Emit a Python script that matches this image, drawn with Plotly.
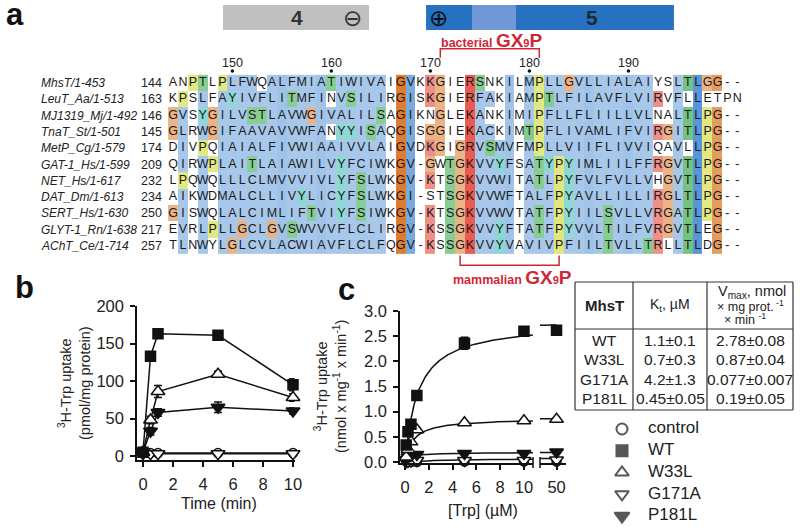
import numpy as np
import plotly.graph_objects as go

W, H = 800, 527

# ---------------- panel a data ----------------
names = ["MhsT/1-453", "LeuT_Aa/1-513", "MJ1319_Mj/1-492", "TnaT_St/1-501",
         "MetP_Cg/1-579", "GAT-1_Hs/1-599", "NET_Hs/1-617", "DAT_Dm/1-613",
         "SERT_Hs/1-630", "GLYT-1_Rn/1-638", "AChT_Ce/1-714"]
starts = [144, 163, 146, 145, 174, 209, 232, 234, 250, 217, 257]
ends = [199, 220, 201, 200, 229, 263, 286, 288, 304, 271, 311]
seqs = [
    "ANPTLPLFWQ" "ALFMIATIWI" "VAIGVKKGIE" "RSNKILMPLL" "GVLLIALAIY" "SLTLGG--",
    "KPSLFAYIVF" "LITMFINVSI" "LIRGISKGIE" "RFAKIAMPTL" "FILAVFLVIR" "VFLLETPN",
    "GVSYGILVST" "LAVWGIVALI" "LSAGIKNGLE" "KANKIMIPFL" "LFLIILLVLN" "ALTLPG--",
    "GLRWGIFAAV" "AVVWFANYYI" "SAQGISGGIE" "KACKIMTPFL" "IVAMLIFVIR" "GITLPG--",
    "DIVPQIAIAL" "FIVWIAAIVV" "LAIGVDKGIG" "RVSMVFMPLL" "VIIFLIVVIQ" "AVLLPG--",
    "QIRWPLAITL" "AIAWILVYFC" "IWKGV-GWTG" "KVVYFSATYP" "YIMLIILFFR" "GVTLPG--",
    "LPQWQLLLCL" "MVVVIVLYFS" "LWKGV-KTSG" "KVVWITATLP" "YFVLFVLLVH" "GVTLPG--",
    "AIKWDMALCL" "LIVYLICYFS" "LWKGI-STSG" "KVVWFTALFP" "YAVLLILLIR" "GLTLPG--",
    "GISWQLALCI" "MLIFTVIYFS" "IWKGV-KTSG" "KVVWVTATFP" "YIILSVLLVR" "GATLPG--",
    "EVRLPLLGCL" "GVSWVVVFLC" "LIRGV-KSSG" "KVVYFTATFP" "YVVLTILFVR" "GVTLEG--",
    "TLNWYLGLCV" "LACWIAVFLC" "LFQGV-KSSG" "KVVYVAVIVP" "FIILTVLLTR" "LLTLDG--",
]
ruler_numbers = [150, 160, 170, 180, 190]
mutants = ["G171A", "P181L"]
tm_labels = ["4", "5"]

# ---------------- panel b data ----------------
time_min = [0, 0.5, 1, 5, 10]
b_control = [6, 4, 4, 4, 4]
b_wt = [5, 133, 163, 161, 95]
b_wt_err = [3, 5, 5, 4, 8]
b_w33l = [5, 48, 86, 109, 78]
b_w33l_err = [2, 5, 8, 4, 5]
b_g171a = [3, 3, 3, 3, 3]
b_g171a_err = [1, 1, 1, 1, 1]
b_p181l = [5, 33, 58, 65, 60]
b_p181l_err = [2, 5, 5, 7, 4]

# ---------------- panel c data ----------------
trp_um = [0.1, 0.25, 0.5, 1, 5, 10, 50]
c_control = [0.01, 0.0, 0.0, 0.0, 0.01, 0.01, 0.01]
c_wt = [0.34, 0.6, 0.75, 1.32, 2.36, 2.6, 2.62]
c_wt_err = [0.03, 0.04, 0.05, 0.06, 0.12, 0.06, 0.08]
c_w33l = [0.1, 0.25, 0.4, 0.64, 0.78, 0.82, 0.85]
c_w33l_err = [0.02, 0.03, 0.04, 0.04, 0.03, 0.03, 0.03]
c_g171a = [0.01, 0.01, 0.02, 0.03, 0.03, 0.03, 0.04]
c_g171a_err = [0.01] * 7
c_p181l = [0.05, 0.1, 0.13, 0.15, 0.17, 0.17, 0.2]
c_p181l_err = [0.01, 0.02, 0.02, 0.02, 0.02, 0.02, 0.03]

# ---------------- table data ----------------
table_variants = ["WT", "W33L", "G171A", "P181L"]
table_kt = ["1.1±0.1", "0.7±0.3", "4.2±1.3", "0.45±0.05"]
table_vmax = ["2.78±0.08", "0.87±0.04", "0.077±0.007", "0.19±0.05"]
kt_values = [1.1, 0.7, 4.2, 0.45]
vmax_values = [2.78, 0.87, 0.077, 0.19]

legend_labels = ["control", "WT", "W33L", "G171A", "P181L"]

assert all(len(s) == 58 for s in seqs)


def P(x):
    return x / W


def Q(y):
    return 1 - y / H


BLACK = "#111111"

# ---------------- Clustal-like colouring ----------------
HYD = set("WLVIMAFCHPY")
PROPS = [set("ACFGHIKLMTVWY"), set("DEHKNQRSTWY"), set("ACDGNPSTV"), set("HKR"),
         set("DE"), set("DEHKR"), set("FHWY"), set("ILV"), set("ACGS"), set("P")]
BASE = {
    "blue": (80, 145, 215), "red": (230, 60, 50), "green": (50, 168, 70),
    "orange": (222, 125, 45), "yellow": (205, 215, 40), "cyan": (60, 190, 180),
    "magenta": (190, 70, 190),
}
nrow, ncol = len(seqs), len(seqs[0])


def column(j):
    return [s[j] for s in seqs]


def frac(col, S):
    return sum(c in S for c in col) / len(col)


def cons_score(col):
    if sum(c == '-' for c in col) > len(col) / 2:
        return None
    if len(set(col)) == 1:
        return 11
    sc = 0
    for p in PROPS:
        if all(c in p for c in col) or all(c not in p for c in col):
            sc += 1
    return sc


def cls(aa, col):
    hyd = frac(col, HYD)
    if aa in "AILMFWVC" and hyd >= 0.6:
        return "blue"
    if aa in "KR" and (frac(col, "KR") >= 0.6 or frac(col, "K") >= 0.8 or frac(col, "R") >= 0.8):
        return "red"
    if aa in "ST" and (frac(col, "ST") >= 0.5 or hyd >= 0.6):
        return "green"
    if aa == "N" and frac(col, "N") >= 0.5:
        return "green"
    if aa == "Q" and frac(col, "QE") >= 0.5:
        return "green"
    if aa in "DE" and frac(col, "DE") >= 0.5:
        return "magenta"
    if aa in "HY" and hyd >= 0.6:
        return "cyan"
    if aa == "G":
        return "orange"
    if aa == "P":
        return "yellow"
    return None


def bleach(rgb, b):
    return "rgb(%d,%d,%d)" % tuple(round(c + (255 - c) * b) for c in rgb)


palette = ["rgb(255,255,255)"]
z = [[0] * ncol for _ in range(nrow)]
for j in range(ncol):
    col = column(j)
    sc = cons_score(col)
    for i in range(nrow):
        aa = col[i]
        if aa == '-' or sc is None:
            continue
        k = cls(aa, col)
        if k is None:
            continue
        if k == "blue":
            b = min(0.5, max(0.05, (11 - sc) * 0.115))
        else:
            b = min(0.42, (11 - sc) * 0.08)
        c = bleach(BASE[k], b)
        if c not in palette:
            palette.append(c)
        z[i][j] = palette.index(c)
if len(palette) < 2:
    palette.append("rgb(255,255,255)")
npal = len(palette)
colorscale = [[k / (npal - 1), palette[k]] for k in range(npal)]

fig = go.Figure()

cols_idx = list(range(1, ncol + 1))
rows_idx = list(range(1, nrow + 1))
fig.add_trace(go.Heatmap(z=z, x=cols_idx, y=rows_idx, colorscale=colorscale, zmin=0,
                         zmax=npal - 1, showscale=False, hoverinfo="skip",
                         xaxis="x4", yaxis="y4"))
lx, ly, lt = [], [], []
for i, s in enumerate(seqs):
    for j, aa in enumerate(s):
        lx.append(j + 1)
        ly.append(i + 1)
        lt.append(aa)
fig.add_trace(go.Scatter(x=lx, y=ly, text=lt, mode="text", hoverinfo="skip",
                         textfont=dict(family="Liberation Sans", size=12.5, color="#1a1a1a"),
                         xaxis="x4", yaxis="y4"))

# ruler dots
ruler_cols = [n - starts[0] + 1 for n in ruler_numbers]
fig.add_trace(go.Scatter(x=ruler_cols, y=[0.27] * len(ruler_cols), mode="markers",
                         marker=dict(size=3.5, color=BLACK), hoverinfo="skip",
                         xaxis="x4", yaxis="y4"))

annotations = []
shapes = []

for n, c in zip(ruler_numbers, ruler_cols):
    annotations.append(dict(x=c, y=-0.25, xref="x4", yref="y4", text=str(n), showarrow=False,
                            font=dict(size=12.5, family="Liberation Sans", color="#222")))

for i in range(nrow):
    annotations.append(dict(x=P(39), y=i + 1, xref="paper", yref="y4", xanchor="left",
                            text="<i>%s</i>" % names[i], showarrow=False,
                            font=dict(size=12, family="Liberation Sans", color="#222")))
    annotations.append(dict(x=P(164), y=i + 1, xref="paper", yref="y4", xanchor="right",
                            text=str(starts[i]), showarrow=False,
                            font=dict(size=12.5, family="Liberation Sans", color="#222")))
    annotations.append(dict(x=ncol + 0.75, y=i + 1, xref="x4", yref="y4", xanchor="left",
                            text=str(ends[i]), showarrow=False,
                            font=dict(size=12.5, family="Liberation Sans", color="#222")))

# GX9P brackets
g_col = int(mutants[0][1:-1]) - starts[0] + 1
p_col = int(mutants[1][1:-1]) - starts[0] + 1
last = seqs[-1]
mg = next(j for j in range(ncol - 10) if last[j] == 'G' and last[j + 10] == 'P') + 1
mp = mg + 10
RB = "rgb(205,40,55)"
shapes.append(dict(type="path", xref="x4", yref="y4",
                   path="M %f,%f L %f,%f L %f,%f L %f,%f" % (g_col, -0.55, g_col, -1.1, p_col, -1.1, p_col, -0.55),
                   line=dict(color=RB, width=1.5)))
shapes.append(dict(type="path", xref="x4", yref="y4",
                   path="M %f,%f L %f,%f L %f,%f L %f,%f" % (mg, 11.58, mg, 12.18, mp, 12.18, mp, 11.58),
                   line=dict(color=RB, width=1.5)))
gx9p = ("<b>%s <span style='font-size:19px'>GX</span><span style='font-size:11px'>9</span>"
        "<span style='font-size:19px'>P</span></b>")
annotations.append(dict(x=(g_col + p_col) / 2 + 0.2, y=-1.62, xref="x4", yref="y4",
                        text=gx9p % "bacterial", showarrow=False,
                        font=dict(size=12.5, color=RB, family="Liberation Sans")))
annotations.append(dict(x=(mg + mp) / 2 + 0.3, y=12.95, xref="x4", yref="y4",
                        text=gx9p % "mammalian", showarrow=False,
                        font=dict(size=12.5, color=RB, family="Liberation Sans")))

# TM bars
shapes.append(dict(type="rect", xref="x4", yref="y4", x0=6.05, x1=20.8, y0=-3.79, y1=-2.25,
                   fillcolor="rgb(192,192,192)", line=dict(width=0), layer="below"))
shapes.append(dict(type="rect", xref="x4", yref="y4", x0=26.56, x1=51.6, y0=-3.79, y1=-2.25,
                   fillcolor="rgb(38,114,192)", line=dict(width=0), layer="below"))
shapes.append(dict(type="rect", xref="x4", yref="y4", x0=31.2, x1=35.65, y0=-3.79, y1=-2.25,
                   fillcolor="rgb(112,152,214)", line=dict(width=0), layer="below"))
annotations.append(dict(x=13.5, y=-3.0, xref="x4", yref="y4", text="<b>%s</b>" % tm_labels[0],
                        showarrow=False, font=dict(size=21, color="#333", family="Liberation Sans")))
annotations.append(dict(x=43.3, y=-3.0, xref="x4", yref="y4", text="<b>%s</b>" % tm_labels[1],
                        showarrow=False, font=dict(size=21, color="#1a2a3a", family="Liberation Sans")))
annotations.append(dict(x=19.1, y=-3.0, xref="x4", yref="y4", text="⊖",
                        showarrow=False, font=dict(size=23, color="#333", family="DejaVu Sans")))
annotations.append(dict(x=27.8, y=-3.0, xref="x4", yref="y4", text="⊕",
                        showarrow=False, font=dict(size=23, color="#111", family="DejaVu Sans")))

# ---------------- panel b traces ----------------
LW = 1.5
series_style = {
    "control": dict(symbol="circle", color="white", size=9),
    "WT": dict(symbol="square", color=BLACK, size=10),
    "W33L": dict(symbol="triangle-up", color="white", size=12),
    "G171A": dict(symbol="triangle-down", color="white", size=12),
    "P181L": dict(symbol="triangle-down", color=BLACK, size=12),
}


def mk(name):
    st = series_style[name]
    return dict(symbol=st["symbol"], size=st["size"], color=st["color"],
                line=dict(color=BLACK, width=1.5))


b_series = [("control", b_control, None), ("G171A", b_g171a, b_g171a_err),
            ("P181L", b_p181l, b_p181l_err), ("W33L", b_w33l, b_w33l_err), ("WT", b_wt, b_wt_err)]
for name, ys, err in b_series:
    fig.add_trace(go.Scatter(
        x=time_min, y=ys, mode="lines+markers", line=dict(color=BLACK, width=LW),
        marker=mk(name), hoverinfo="skip", cliponaxis=False,
        error_y=dict(type="data", array=err, color=BLACK, thickness=1.5, width=4, visible=err is not None),
        xaxis="x", yaxis="y"))

# ---------------- panel c traces ----------------
fit_left = np.linspace(0, 10.75, 200)
fit_right = np.linspace(48.6, 50.0, 10)
fit_map = {"WT": 0, "W33L": 1, "G171A": 2, "P181L": 3}
for name, idx in fit_map.items():
    km, vm = kt_values[idx], vmax_values[idx]
    for xs, xa, ya in ((fit_left, "x2", "y2"), (fit_right, "x3", "y3")):
        fig.add_trace(go.Scatter(x=xs, y=vm * xs / (km + xs), mode="lines",
                                 line=dict(color=BLACK, width=LW), hoverinfo="skip",
                                 xaxis=xa, yaxis=ya))

c_series = [("control", c_control, None), ("G171A", c_g171a, c_g171a_err),
            ("P181L", c_p181l, c_p181l_err), ("W33L", c_w33l, c_w33l_err), ("WT", c_wt, c_wt_err)]
for name, ys, err in c_series:
    for sel, xa, ya in ((lambda v: v <= 10.75, "x2", "y2"), (lambda v: v > 10.75, "x3", "y3")):
        ids = [k for k, v in enumerate(trp_um) if sel(v)]
        xs = [trp_um[k] for k in ids]
        yv = [ys[k] for k in ids]
        ev = [err[k] for k in ids] if err is not None else None
        fig.add_trace(go.Scatter(
            x=xs, y=yv, mode="markers", marker=mk(name), hoverinfo="skip", cliponaxis=False,
            error_y=dict(type="data", array=ev, color=BLACK, thickness=1.5, width=4, visible=ev is not None),
            xaxis=xa, yaxis=ya))

# ---------------- legend (symbols + text) ----------------
legend_names = ["control", "WT", "W33L", "G171A", "P181L"]
fig.add_trace(go.Scatter(x=[12] * 5, y=list(range(5)), mode="markers",
                         marker=dict(symbol=[series_style[n]["symbol"] for n in legend_names],
                                     size=[11, 11, 12, 12, 13],
                                     color=[series_style[n]["color"] for n in legend_names],
                                     line=dict(color=BLACK, width=2)),
                         hoverinfo="skip", xaxis="x5", yaxis="y5"))
fig.add_trace(go.Scatter(x=[38] * 5, y=list(range(5)), mode="text", text=legend_labels,
                         textposition="middle right", hoverinfo="skip",
                         textfont=dict(size=17, family="Liberation Sans", color="#222"),
                         xaxis="x5", yaxis="y5"))

# ---------------- table ----------------
TL = dict(color="#333", width=1.2)
for y in (282, 329, 410):
    shapes.append(dict(type="line", xref="paper", yref="paper", x0=P(575), x1=P(793),
                       y0=Q(y), y1=Q(y), line=TL))
for x in (575, 633, 707, 793):
    shapes.append(dict(type="line", xref="paper", yref="paper", x0=P(x), x1=P(x),
                       y0=Q(282), y1=Q(410), line=TL))
TF = dict(size=14, family="Liberation Sans", color="#222")
annotations.append(dict(x=P(604), y=Q(305), xref="paper", yref="paper", text="<b>MhsT</b>",
                        showarrow=False, font=dict(TF, size=15)))
annotations.append(dict(x=P(670), y=Q(305), xref="paper", yref="paper",
                        text="K<sub>t</sub>, µM", showarrow=False, font=dict(TF, size=14)))
annotations.append(dict(x=P(752), y=Q(292), xref="paper", yref="paper",
                        text="V<sub>max</sub>, nmol", showarrow=False, font=dict(TF, size=14.5)))
annotations.append(dict(x=P(750), y=Q(306), xref="paper", yref="paper",
                        text="× mg prot.<sup> -1</sup>", showarrow=False, font=dict(TF, size=12.5)))
annotations.append(dict(x=P(745), y=Q(319), xref="paper", yref="paper",
                        text="× min <sup>-1</sup>", showarrow=False, font=dict(TF, size=12.5)))
for k, yv in enumerate((340, 359.5, 379, 398)):
    annotations.append(dict(x=P(604), y=Q(yv), xref="paper", yref="paper",
                            text=table_variants[k], showarrow=False, font=dict(TF, size=15.5)))
    annotations.append(dict(x=P(670), y=Q(yv), xref="paper", yref="paper",
                            text=table_kt[k], showarrow=False, font=dict(TF, size=15.5)))
    annotations.append(dict(x=P(750), y=Q(yv), xref="paper", yref="paper",
                            text=table_vmax[k], showarrow=False, font=dict(TF, size=15.5)))

# ---------------- panel labels & axis titles ----------------
for lab, x, y in (("a", 15, 15), ("b", 24, 287), ("c", 346, 289)):
    annotations.append(dict(x=P(x), y=Q(y), xref="paper", yref="paper", text="<b>%s</b>" % lab,
                            showarrow=False, font=dict(size=31, family="Liberation Sans", color="#111")))

AF = dict(size=14.5, family="Liberation Sans", color="#222")
annotations.append(dict(x=P(74), y=Q(383), xref="paper", yref="paper", textangle=-90,
                        text="<sup>3</sup>H-Trp uptake<br>(pmol/mg protein)", showarrow=False, font=AF))
annotations.append(dict(x=P(219), y=Q(503), xref="paper", yref="paper", text="Time (min)",
                        showarrow=False, font=dict(AF, size=16)))
annotations.append(dict(x=P(330), y=Q(387), xref="paper", yref="paper", textangle=-90,
                        text="<sup>3</sup>H-Trp uptake<br>(nmol x mg<sup>-1</sup> x min<sup>-1</sup>)",
                        showarrow=False, font=AF))
annotations.append(dict(x=P(483), y=Q(510), xref="paper", yref="paper", text="[Trp] (µM)",
                        showarrow=False, font=dict(AF, size=16)))

for a in annotations:
    a.setdefault("xanchor", "center")
    a.setdefault("yanchor", "middle")

# axis break marks for panel c
for x in (533, 540):
    shapes.append(dict(type="line", xref="paper", yref="paper", x0=P(x), x1=P(x),
                       y0=Q(457), y1=Q(468), line=dict(color=BLACK, width=1.5)))

axis_common = dict(showline=True, linecolor=BLACK, linewidth=1.5, ticks="outside", ticklen=5,
                   tickwidth=1.5, tickcolor=BLACK, showgrid=False, zeroline=False, automargin=False,
                   ticklabelstandoff=3,
                   tickfont=dict(size=16.5, family="Liberation Sans", color="#222"), fixedrange=True)
hidden = dict(visible=False, fixedrange=True, automargin=False)

fig.update_layout(
    template="none",
    width=W, height=H, margin=dict(l=0, r=0, t=0, b=0, pad=0, autoexpand=False),
    paper_bgcolor="white", plot_bgcolor="rgba(0,0,0,0)", showlegend=False,
    font=dict(family="Liberation Sans", color="#222"),
    xaxis=dict(axis_common, domain=[P(137), P(294.5)], range=[-0.4, 10.1],
               tickvals=[0, 2, 4, 6, 8, 10], anchor="y"),
    yaxis=dict(axis_common, domain=[Q(460), Q(306)], range=[-5.3, 200],
               tickvals=[0, 50, 100, 150, 200], anchor="x"),
    xaxis2=dict(axis_common, domain=[P(400), P(533)], range=[-0.42, 10.76],
                tickvals=[0, 2, 4, 6, 8, 10], anchor="y2"),
    yaxis2=dict(axis_common, domain=[Q(463), Q(311)], range=[-0.02, 3.0],
                tickvals=[0, 0.5, 1, 1.5, 2, 2.5, 3], tickformat=".1f", anchor="x2"),
    xaxis3=dict(axis_common, domain=[P(540), P(566)], range=[48.6, 50.8],
                tickvals=[50], anchor="y3"),
    yaxis3=dict(hidden, domain=[Q(463), Q(311)], range=[-0.02, 3.0], anchor="x3"),
    xaxis4=dict(hidden, domain=[P(168.05), P(742.25)], range=[0.5, 58.5], anchor="y4"),
    yaxis4=dict(hidden, domain=[Q(285), 1], range=[13.393, -4.092], anchor="x4"),
    xaxis5=dict(hidden, domain=[P(610), P(760)], range=[0, 150], anchor="y5"),
    yaxis5=dict(hidden, domain=[0, Q(418)], range=[4.506, -0.506], anchor="x5"),
    annotations=annotations, shapes=shapes,
)

fig.write_html("out.html", config={"displayModeBar": False},
               post_script="document.body.style.margin='0';document.body.style.overflow='hidden';")
